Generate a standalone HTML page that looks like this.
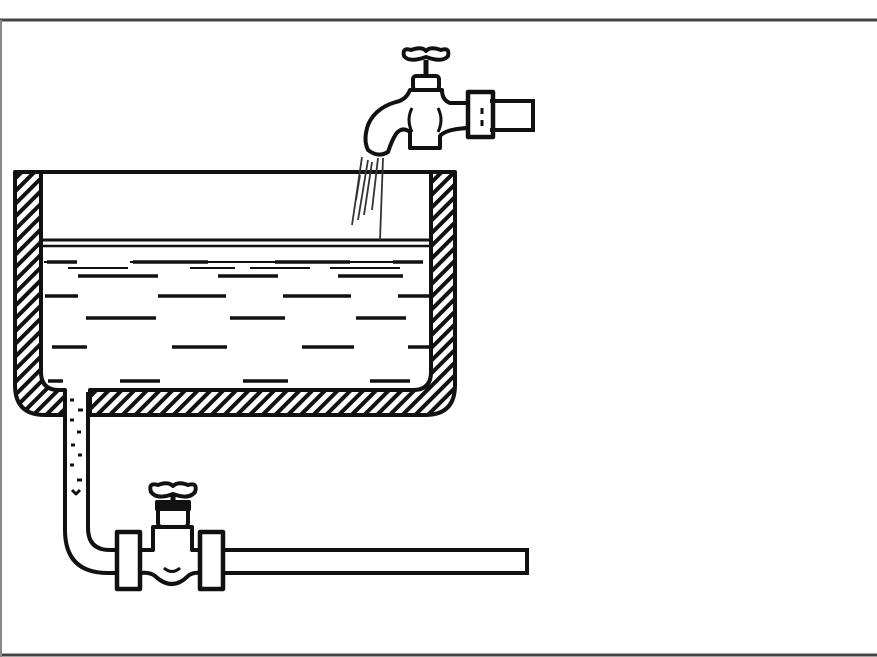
<!DOCTYPE html>
<html><head><style>html,body{margin:0;padding:0;background:#fff}svg{display:block}</style></head>
<body>
<svg width="877" height="657" viewBox="0 0 877 657" xmlns="http://www.w3.org/2000/svg">
<defs>
<pattern id="h" width="9" height="9" patternUnits="userSpaceOnUse" patternTransform="rotate(45)">
<rect width="9" height="9" fill="#fff"/><rect x="0" y="0" width="4" height="9" fill="#111"/>
</pattern>
</defs>
<rect x="0" y="0" width="877" height="657" fill="#fff"/>
<line x1="0" y1="20" x2="877" y2="20" stroke="#444" stroke-width="3"/>
<line x1="0" y1="655" x2="877" y2="655" stroke="#444" stroke-width="3"/>
<line x1="1" y1="20" x2="1" y2="657" stroke="#888" stroke-width="2"/>
<g stroke="#111" stroke-width="4" fill="none" stroke-linejoin="round">
<path fill="url(#h)" fill-rule="evenodd" d="M15 172 H41 V372 Q41 390 59 390 H65 V415 H45 Q15 415 15 385 Z M90 390 H413 Q431 390 431 372 V172 H455 V385 Q455 415 425 415 H90 Z"/>
<line x1="15" y1="172" x2="455" y2="172"/>
<line x1="41" y1="240" x2="431" y2="240" stroke-width="3"/>
<path d="M65 392 V530 Q65 573 108 573 H117"/>
<path d="M88 392 V528 Q88 550 110 550 H117"/>
<path d="M223 550 H527 M223 573 H527 M527 548 V575"/>
<rect x="117" y="532" width="23" height="57" stroke-width="4.5"/>
<rect x="200" y="532" width="23" height="57" stroke-width="4.5"/>
<path d="M140 550 H153 V527 H192 V550 H200 M140 573 Q150 572 155 576 Q172 592 188 576 Q193 572 200 573"/>
<path d="M164 568 Q172 575 180 568" stroke-width="3"/>
<rect x="158" y="505" width="30" height="22" rx="4"/>
<rect x="157" y="502" width="32" height="7" fill="#111"/>
<line x1="173" y1="493" x2="173" y2="505" stroke-width="5"/>
<path d="M158 485 Q148 482 151 492 Q157 500 173 494 Q189 500 195 492 Q198 482 188 485 Q178 481 173 486 Q168 481 158 485 Z" stroke-width="4"/>
<g stroke-width="3">
<path d="M70 400h4M78 410h5M70 420h4M77 432h4M71 445h4M78 455h4M70 465h4M77 480h5M72 490l4 4 4-4"/>
</g>
<path d="M490 101 H533 M490 130 H533 M533 99 V132"/>
<rect x="468" y="92" width="25" height="45" stroke-width="4.5"/>
<path d="M468 103 H450 Q442 100 442 90 H410 Q406 100 396 102 Q375 108 368 125 Q363 140 368 150 Q378 158 388 152 Q392 140 396 134 Q402 126 410 132 V148 H440 V136 Q446 129 468 128"/>
<path d="M412 108 Q406 120 412 132 M438 108 Q444 120 438 132" stroke-width="3"/>
<rect x="413" y="76" width="26" height="14" rx="3"/>
<line x1="426" y1="60" x2="426" y2="76" stroke-width="5"/>
<path d="M411 50 Q402 47 404 56 Q409 63 426 57 Q443 63 448 56 Q450 47 441 50 Q430 46 426 51 Q422 46 411 50 Z" stroke-width="4"/>
<path d="M482 108v6M482 120v6" stroke-width="3"/>
</g>
<g stroke="#333" stroke-width="1.8">
<path d="M362 157 L352 225 M368 160 L358 220 M372 162 L364 215 M378 158 L372 210 M383 158 L380 240 M360 175 L356 200"/>
</g>
<g stroke="#111" stroke-width="3.5">
<path d="M41 246 H431" stroke-width="2.5"/>
<path d="M44 262h30M130 262h62M200 262h90M330 262h80M68 268h60M190 268h45M250 268h60M330 268h70" stroke-width="2"/>
<path d="M47 262h30M133 262h75M275 262h75M393 262h30"/>
<path d="M78 276h80M218 276h60M338 276h65"/>
<path d="M45 296h33M158 296h68M283 296h68M398 296h33"/>
<path d="M86 318h70M230 318h55M356 318h50"/>
<path d="M52 347h35M172 347h55M302 347h52M408 347h23"/>
<path d="M48 381h15M120 381h40M243 381h45M370 381h40"/>
</g>
</svg>
</body></html>
